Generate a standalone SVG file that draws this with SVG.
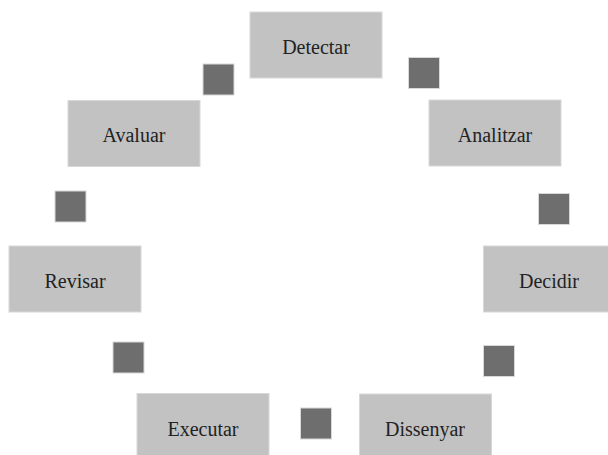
<svg xmlns="http://www.w3.org/2000/svg" width="608" height="455" viewBox="0 0 608 455">
<style>
.box{fill:#c2c2c2;stroke:#d8d8d8;stroke-width:1}
.sq{fill:#6e6e6e;stroke:#d8d8d8;stroke-width:1}
.lbl{font-family:"Liberation Serif","DejaVu Serif",serif;font-size:20px;fill:#222;text-anchor:middle}
</style>
<rect width="608" height="455" fill="#fff"/>
<g id="connectors">
<rect class="sq" x="203" y="64" width="31" height="31"/>
<rect class="sq" x="408.5" y="57.5" width="31" height="31"/>
<rect class="sq" x="538.5" y="193.5" width="31" height="31"/>
<rect class="sq" x="483.5" y="345.5" width="31" height="31"/>
<rect class="sq" x="300.5" y="408" width="31" height="31"/>
<rect class="sq" x="113" y="342" width="31" height="31"/>
<rect class="sq" x="55" y="191" width="31" height="31"/>
</g>
<g id="detectar"><rect class="box" x="250" y="12" width="132" height="66"/><text class="lbl" x="316" y="54">Detectar</text></g>
<g id="analitzar"><rect class="box" x="429" y="100" width="132" height="66"/><text class="lbl" x="495" y="142">Analitzar</text></g>
<g id="decidir"><rect class="box" x="483.5" y="246" width="132" height="66"/><text class="lbl" x="549" y="288">Decidir</text></g>
<g id="dissenyar"><rect class="box" x="359.5" y="394" width="132" height="66"/><text class="lbl" x="425" y="436">Dissenyar</text></g>
<g id="executar"><rect class="box" x="137" y="393.5" width="132" height="66"/><text class="lbl" x="203" y="436">Executar</text></g>
<g id="revisar"><rect class="box" x="9" y="246" width="132" height="66"/><text class="lbl" x="75" y="288">Revisar</text></g>
<g id="avaluar"><rect class="box" x="68" y="100.5" width="132" height="66"/><text class="lbl" x="134" y="142">Avaluar</text></g>
</svg>
